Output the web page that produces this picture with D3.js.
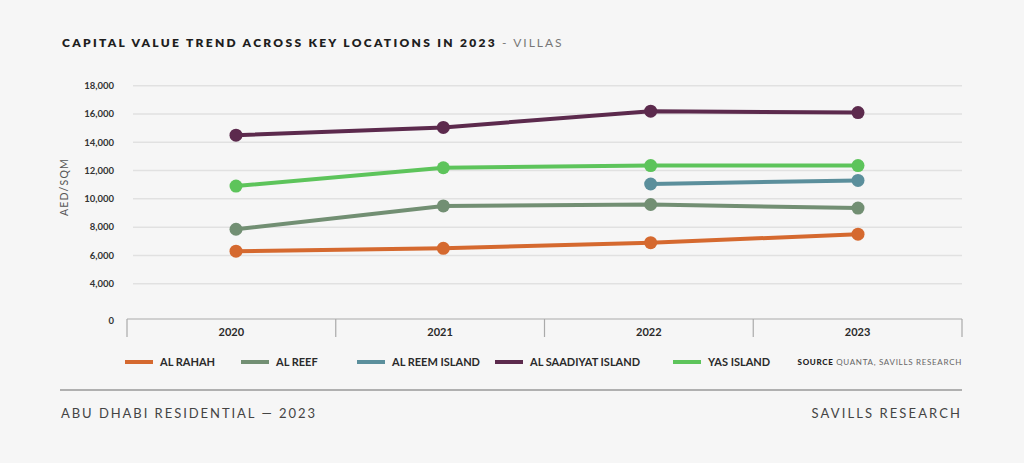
<!DOCTYPE html>
<html>
<head>
<meta charset="UTF-8">
<title>Capital value trend - villas</title>
<style>
  body { margin: 0; background: #f6f6f6; }
  svg { display: block; font-family: Lato, "Open Sans", sans-serif; }
</style>
</head>
<body>
<svg></svg>
<script src="https://d3js.org/d3.v7.min.js"></script>
<script>

let width = 1024, height = 463;

// chart data (AED per sqm)
let years = ["2020", "2021", "2022", "2023"];
let seriesNames = ["AL RAHAH", "AL REEF", "AL REEM ISLAND", "AL SAADIYAT ISLAND", "YAS ISLAND"];
let seriesColors = ["#d5692f", "#728f73", "#5b8f9c", "#5c2a4d", "#5dc45b"];
let alRahah = [6300, 6500, 6900, 7500];
let alReef = [7850, 9500, 9600, 9350];
let alReem = [null, null, 11050, 11300];
let alSaadiyat = [14500, 15050, 16200, 16100];
let yasIsland = [10900, 12200, 12350, 12350];
let gridTicks = [4000, 6000, 8000, 10000, 12000, 14000, 16000, 18000];

let allSeries = [alRahah, alReef, alReem, alSaadiyat, yasIsland];

let svg = d3.select("svg")
    .attr("width", width)
    .attr("height", height);

svg.append("rect").attr("width", width).attr("height", height).attr("fill", "#f6f6f6");

// title
let title = svg.append("text")
    .attr("x", 62).attr("y", 47)
    .attr("font-size", 12)
    .attr("fill", "#1e1e1e");
title.append("tspan").attr("font-weight", 800).attr("letter-spacing", 2.3)
    .text("CAPITAL VALUE TREND ACROSS KEY LOCATIONS IN 2023");
title.append("tspan").attr("font-weight", 400).attr("fill", "#777").attr("letter-spacing", 2)
    .text(" - VILLAS");

// axis is broken between 0 and 4,000
let y = d3.scaleLinear()
    .domain([0, 4000, 18000])
    .range([319, 283.7, 85.7]);

let xBand = d3.scaleBand().domain(years).range([127, 962]);
let x = d3.scalePoint().domain(years).range([236, 858]);

// gridlines
svg.append("g")
    .selectAll("line")
    .data(gridTicks)
    .enter()
    .append("line")
    .attr("x1", 133).attr("x2", 962)
    .attr("y1", d => y(d)).attr("y2", d => y(d))
    .attr("stroke", "#e1e1e1")
    .attr("stroke-width", 1.5);

// y labels
svg.append("g")
    .selectAll("text")
    .data([0].concat(gridTicks))
    .enter()
    .append("text")
    .attr("x", 114)
    .attr("y", d => d === 0 ? 321 : y(d))
    .attr("dy", "0.35em")
    .attr("text-anchor", "end")
    .attr("font-size", 9.5)
    .attr("font-weight", 700)
    .attr("fill", "#333")
    .text(d => d3.format(",")(d));

svg.append("text")
    .attr("transform", "translate(64,187) rotate(-90)")
    .attr("dy", "0.35em")
    .attr("text-anchor", "middle")
    .attr("font-size", 10.5)
    .attr("letter-spacing", 1.2)
    .attr("fill", "#555")
    .text("AED/SQM");

// x axis box
let xg = svg.append("g");
xg.append("line")
    .attr("x1", 127).attr("x2", 962).attr("y1", 319).attr("y2", 319)
    .attr("stroke", "#aaa").attr("stroke-width", 1.2);
xg.selectAll("line.div")
    .data(years.map(d => xBand(d)).concat([xBand.range()[1]]))
    .enter()
    .append("line")
    .attr("class", "div")
    .attr("x1", d => d).attr("x2", d => d)
    .attr("y1", 319).attr("y2", 337)
    .attr("stroke", "#aaa").attr("stroke-width", 1.2);
xg.selectAll("text")
    .data(years)
    .enter()
    .append("text")
    .attr("x", d => xBand(d) + xBand.bandwidth() / 2)
    .attr("y", 336)
    .attr("text-anchor", "middle")
    .attr("font-size", 11)
    .attr("font-weight", 700)
    .attr("fill", "#2a2a2a")
    .text(d => d);

// lines + dots
let line = d3.line()
    .defined(d => d.v != null)
    .x(d => x(d.year))
    .y(d => y(d.v));

allSeries.forEach((s, i) => {
    let pts = years.map((yr, j) => ({year: yr, v: s[j]}));
    svg.append("path")
        .datum(pts)
        .attr("d", line)
        .attr("fill", "none")
        .attr("stroke", seriesColors[i])
        .attr("stroke-width", 4);
    svg.append("g")
        .selectAll("circle")
        .data(pts.filter(d => d.v != null))
        .enter()
        .append("circle")
        .attr("cx", d => x(d.year))
        .attr("cy", d => y(d.v))
        .attr("r", 6.5)
        .attr("fill", seriesColors[i]);
});

// legend
let legendX = [125, 241, 357, 495, 673];
let lg = svg.append("g");
seriesNames.forEach((n, i) => {
    lg.append("line")
        .attr("x1", legendX[i]).attr("x2", legendX[i] + 28)
        .attr("y1", 362).attr("y2", 362)
        .attr("stroke", seriesColors[i]).attr("stroke-width", 4);
    lg.append("text")
        .attr("x", legendX[i] + 35).attr("y", 362)
        .attr("dy", "0.35em")
        .attr("font-size", 11)
        .attr("font-weight", 700)
        .attr("fill", "#2a2a2a")
        .text(n);
});
let src = lg.append("text")
    .attr("x", 962).attr("y", 362)
    .attr("dy", "0.35em")
    .attr("text-anchor", "end")
    .attr("font-size", 8)
    .attr("letter-spacing", 0.7);
src.append("tspan").attr("font-weight", 900).attr("fill", "#222").text("SOURCE ");
src.append("tspan").attr("fill", "#666").text("QUANTA, SAVILLS RESEARCH");

// footer
svg.append("line")
    .attr("x1", 60).attr("x2", 962).attr("y1", 390).attr("y2", 390)
    .attr("stroke", "#999").attr("stroke-width", 1.5);
svg.append("text")
    .attr("x", 61).attr("y", 418)
    .attr("font-size", 13)
    .attr("letter-spacing", 1.95)
    .attr("fill", "#444")
    .text("ABU DHABI RESIDENTIAL — 2023");
svg.append("text")
    .attr("x", 962).attr("y", 418)
    .attr("text-anchor", "end")
    .attr("font-size", 13)
    .attr("letter-spacing", 2.1)
    .attr("fill", "#444")
    .text("SAVILLS RESEARCH");

</script>
</body>
</html>
